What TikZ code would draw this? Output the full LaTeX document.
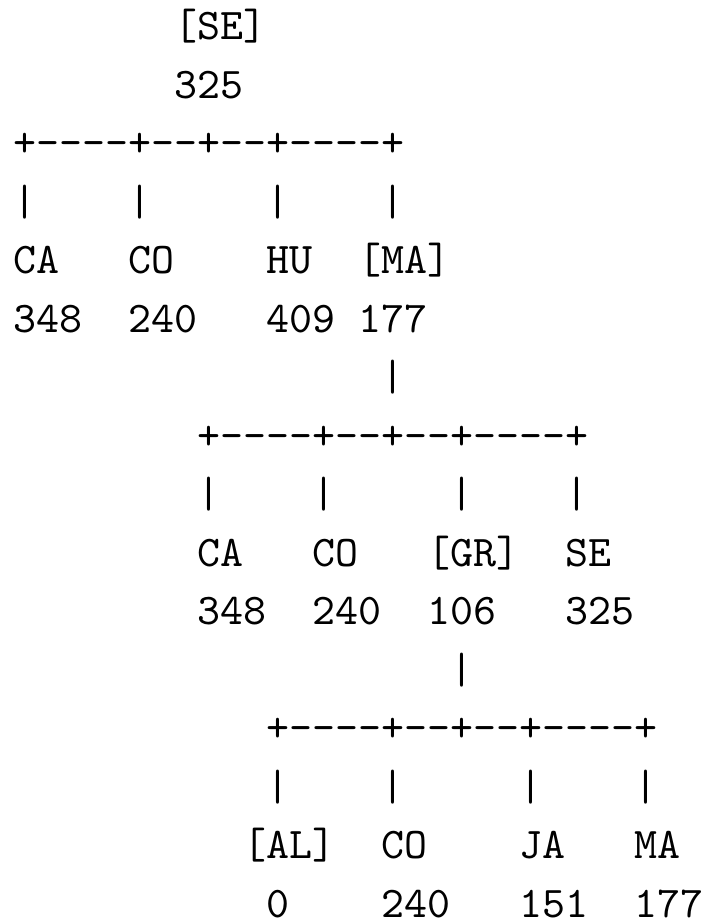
\documentclass[tikz,border=0pt]{standalone}

% typewriter face at its 10pt design size, used at every size
\DeclareFontFamily{TU}{lmttten}{}
\DeclareFontShape{TU}{lmttten}{m}{n}{<-> "[lmmono10-regular.otf]"}{}
\newcommand\gridfont{\fontencoding{TU}\fontfamily{lmttten}\fontseries{m}\fontshape{n}}

% size the typewriter font so that one character cell is 23pt wide
\newsavebox\glyphbox
\newdimen\glyphwd
\AtBeginDocument{%
  \sbox\glyphbox{\gridfont\fontsize{40pt}{40pt}\selectfont 0}%
  \global\glyphwd=\wd\glyphbox
  \pgfmathsetmacro\ttsize{40*23/\glyphwd}%
  \xdef\ttsize{\ttsize}%
}
\tikzset{
  tt/.style={font=\gridfont\fontsize{\ttsize pt}{\ttsize pt}\selectfont,
             inner sep=0pt, outer sep=0pt, anchor=base west},
}
\newcommand\branchbar{+-{}-{}-{}-+-{}-+-{}-+-{}-{}-{}-+}

\begin{document}
\begin{tikzpicture}
  \useasboundingbox (0,0) rectangle (704pt,-921pt);

  % character grid: one unit = one column / one line of text
  \begin{scope}[shift={(13.5pt,-39.5pt)}, x=23pt, y=-58.5pt]
    % level 1
    \node[tt] (l1name) at (7,0) {[SE]};
    \node[tt] (l1val)  at (7,1) {325};
    \node[tt] (l1bar)  at (0,2) {\branchbar};
    \node[tt] (l1p1) at (0,3)  {|};
    \node[tt] (l1p2) at (5,3)  {|};
    \node[tt] (l1p3) at (11,3) {|};
    \node[tt] (l1p4) at (16,3) {|};
    \node[tt] (l1c1) at (0,4)  {CA};
    \node[tt] (l1c2) at (5,4)  {CO};
    \node[tt] (l1c3) at (11,4) {HU};
    \node[tt] (l1c4) at (15,4) {[MA]};
    \node[tt] (l1v1) at (0,5)  {348};
    \node[tt] (l1v2) at (5,5)  {240};
    \node[tt] (l1v3) at (11,5) {409};
    \node[tt] (l1v4) at (15,5) {177};

    % level 2
    \node[tt] (l2stem) at (16,6) {|};
    \node[tt] (l2bar)  at (8,7)  {\branchbar};
    \node[tt] (l2p1) at (8,8)  {|};
    \node[tt] (l2p2) at (13,8) {|};
    \node[tt] (l2p3) at (19,8) {|};
    \node[tt] (l2p4) at (24,8) {|};
    \node[tt] (l2c1) at (8,9)  {CA};
    \node[tt] (l2c2) at (13,9) {CO};
    \node[tt] (l2c3) at (18,9) {[GR]};
    \node[tt] (l2c4) at (24,9) {SE};
    \node[tt] (l2v1) at (8,10)  {348};
    \node[tt] (l2v2) at (13,10) {240};
    \node[tt] (l2v3) at (18,10) {106};
    \node[tt] (l2v4) at (24,10) {325};

    % level 3
    \node[tt] (l3stem) at (19,11) {|};
    \node[tt] (l3bar)  at (11,12) {\branchbar};
    \node[tt] (l3p1) at (11,13) {|};
    \node[tt] (l3p2) at (16,13) {|};
    \node[tt] (l3p3) at (22,13) {|};
    \node[tt] (l3p4) at (27,13) {|};
    \node[tt] (l3c1) at (10,14) {[AL]};
    \node[tt] (l3c2) at (16,14) {CO};
    \node[tt] (l3c3) at (22,14) {JA};
    \node[tt] (l3c4) at (27,14) {MA};
    \node[tt] (l3v1) at (11,15) {0};
    \node[tt] (l3v2) at (16,15) {240};
    \node[tt] (l3v3) at (22,15) {151};
    \node[tt] (l3v4) at (27,15) {177};
  \end{scope}
\end{tikzpicture}
\end{document}
